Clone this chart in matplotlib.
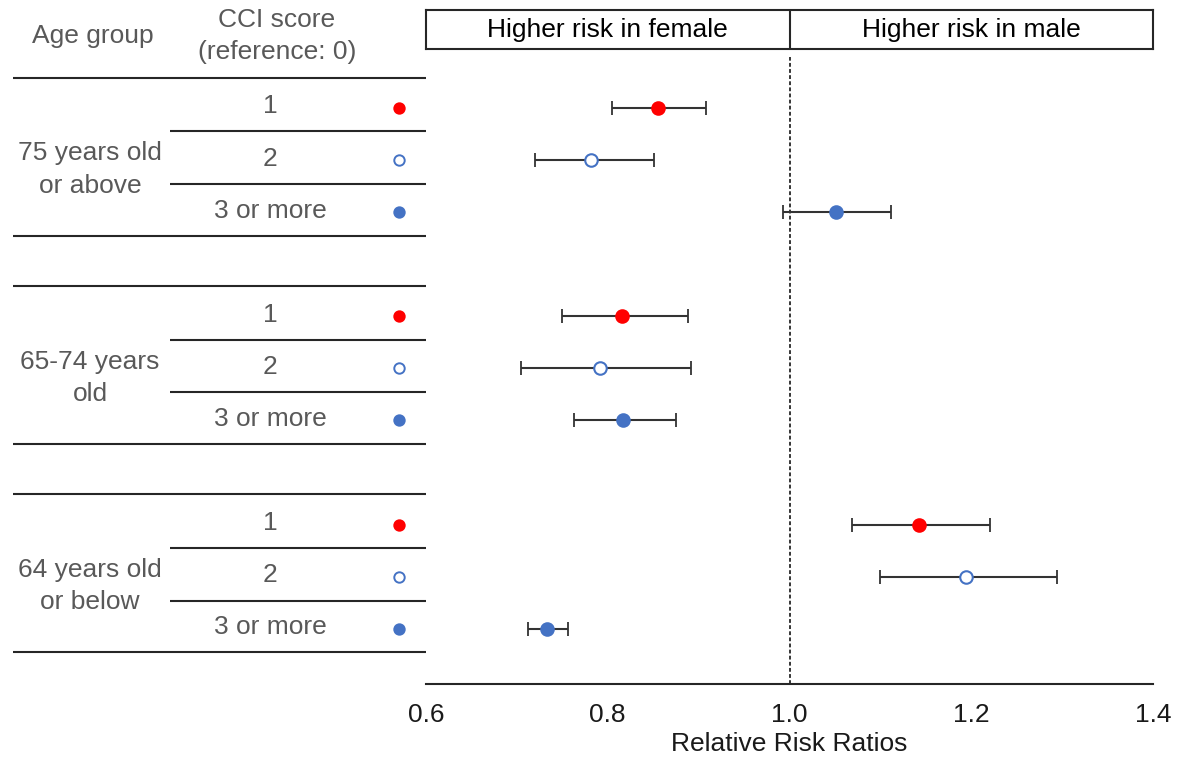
import matplotlib
matplotlib.use("Agg")
import matplotlib.pyplot as plt

plt.rcParams['font.family'] = ['Liberation Sans', 'DejaVu Sans']

# ---------------- data ----------------
age_groups = ["75 years old\nor above", "65-74 years\nold", "64 years old\nor below"]
cci_labels = ["1", "2", "3 or more"]
rr_est   = [0.855, 0.782, 1.051, 0.816, 0.792, 0.817, 1.142, 1.194, 0.733]
rr_lower = [0.805, 0.720, 0.993, 0.750, 0.704, 0.763, 1.069, 1.100, 0.712]
rr_upper = [0.908, 0.851, 1.112, 0.888, 0.892, 0.875, 1.221, 1.294, 0.756]
x_ticks = [0.6, 0.8, 1.0, 1.2, 1.4]
header_left = "Higher risk in female"
header_right = "Higher risk in male"
x_label = "Relative Risk Ratios"

# ---------------- style ----------------
W, H, DPI = 1183, 759, 100
FS = 19
red = "#FF0000"
blue = "#4472C4"
gray_text = "#595959"
line_col = "#262626"
marker_styles = [
    dict(marker="o", mfc=red, mec=red),
    dict(marker="o", mfc="white", mec=blue),
    dict(marker="o", mfc=blue, mec=blue),
]

fig = plt.figure(figsize=(W / DPI, H / DPI), dpi=DPI)

def px_rect(x0, y0, x1, y1):
    return [x0 / W, 1 - y1 / H, (x1 - x0) / W, (y1 - y0) / H]

ax = fig.add_axes(px_rect(426, 57, 1153, 684))
axl = fig.add_axes(px_rect(0, 57, 426, 684), sharey=ax)
axh = fig.add_axes(px_rect(426, 10, 1153, 49))

# y positions of rows
ypos = []
for g in range(len(age_groups)):
    for r in range(len(cci_labels)):
        ypos.append(g * 4 + r)

ax.set_xlim(0.6, 1.4)
ax.set_ylim(11.06, -0.98)

# dashed reference line
ax.axvline(1.0, color="black", lw=1.1, ls=(0, (2.5, 1.5)))

for i, y in enumerate(ypos):
    st = marker_styles[i % 3]
    ax.errorbar(rr_est[i], y,
                xerr=[[rr_est[i] - rr_lower[i]], [rr_upper[i] - rr_est[i]]],
                fmt="none", ecolor="#333333", elinewidth=1.5, capsize=5, capthick=1.3)
    ax.plot(rr_est[i], y, ls="none", markersize=9, mew=1.5, zorder=5, **st)

for s in ["top", "right", "left"]:
    ax.spines[s].set_visible(False)
ax.spines["bottom"].set_linewidth(1.5)
ax.spines["bottom"].set_color(line_col)
ax.set_yticks([])
ax.set_xticks(x_ticks)
ax.set_xticklabels([f"{t:.1f}" for t in x_ticks])
ax.tick_params(axis="x", length=0, pad=14, labelsize=FS, labelcolor="#1a1a1a")
ax.set_xlabel(x_label, fontsize=FS, labelpad=3, color="#1a1a1a")

# header box
axh.set_xlim(0.6, 1.4)
axh.set_ylim(0, 1)
axh.axvline(1.0, color=line_col, lw=1.5)
axh.text(0.8, 0.48, header_left, ha="center", va="center", fontsize=FS, color="black")
axh.text(1.2, 0.48, header_right, ha="center", va="center", fontsize=FS, color="black")
for s in axh.spines.values():
    s.set_linewidth(1.5)
    s.set_color(line_col)
axh.set_xticks([])
axh.set_yticks([])

# left table
axl.set_xlim(0, 426)
axl.axis("off")
axl.text(93, -1.38, "Age group", ha="center", va="center", fontsize=FS, color=gray_text,
         clip_on=False)
axl.text(277, -1.38, "CCI score\n(reference: 0)", ha="center", va="center", fontsize=FS,
         color=gray_text, linespacing=1.45, clip_on=False)

for g, name in enumerate(age_groups):
    y0 = g * 4
    axl.plot([13, 426], [y0 - 0.58, y0 - 0.58], color=line_col, lw=1.5, solid_capstyle="butt")
    axl.plot([13, 426], [y0 + 2.45, y0 + 2.45], color=line_col, lw=1.5, solid_capstyle="butt")
    axl.plot([170, 426], [y0 + 0.45, y0 + 0.45], color=line_col, lw=1.5, solid_capstyle="butt")
    axl.plot([170, 426], [y0 + 1.46, y0 + 1.46], color=line_col, lw=1.5, solid_capstyle="butt")
    axl.text(90, y0 + 1.18, name, ha="center", va="center", fontsize=FS, color=gray_text,
             linespacing=1.45)
    for r, lab in enumerate(cci_labels):
        axl.text(270, y0 + r - 0.03, lab, ha="center", va="center", fontsize=FS, color=gray_text)
        axl.plot(399, y0 + r, ls="none", markersize=7.5, mew=1.4, **marker_styles[r])

fig.savefig("out.png", dpi=DPI)
